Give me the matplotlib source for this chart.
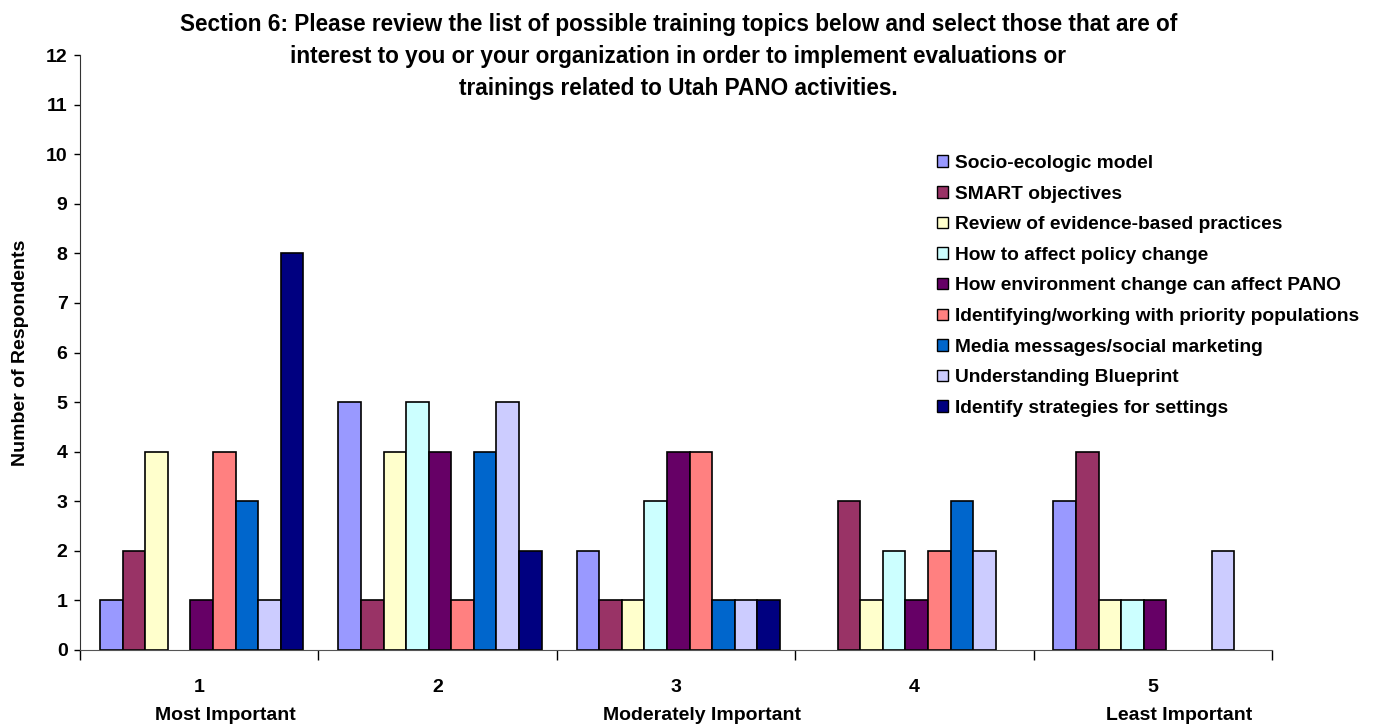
import numpy as np
import matplotlib.pyplot as plt
from matplotlib.patches import Patch
from matplotlib.transforms import blended_transform_factory

plt.rcParams['font.family'] = ['Liberation Sans', 'DejaVu Sans']
plt.rcParams['font.weight'] = 'bold'

categories = ['1', '2', '3', '4', '5']
sublabels = ['Most Important', '', 'Moderately Important', '', 'Least Important']
topics = ['Socio-ecologic model', 'SMART objectives', 'Review of evidence-based practices',
          'How to affect policy change', 'How environment change can affect PANO',
          'Identifying/working with priority populations', 'Media messages/social marketing',
          'Understanding Blueprint', 'Identify strategies for settings']
colors = ['#9999FF', '#993366', '#FFFFCC', '#CCFFFF', '#660066',
          '#FF8080', '#0066CC', '#CCCCFF', '#000080']

socio = [1, 5, 2, 0, 3]
smart = [2, 1, 1, 3, 4]
review = [4, 4, 1, 1, 1]
policy = [0, 5, 3, 2, 1]
environment = [1, 4, 4, 1, 1]
priority = [4, 1, 4, 2, 0]
media = [3, 4, 1, 3, 0]
blueprint = [1, 5, 1, 2, 2]
strategies = [8, 2, 1, 0, 0]
series = [socio, smart, review, policy, environment, priority, media, blueprint, strategies]

fig = plt.figure(figsize=(13.73, 7.26), dpi=100)
ax = fig.add_axes([0.0583, 0.1047, 0.8681, 0.8195])

x = np.arange(len(categories))
w = 0.0948
for i, vals in enumerate(series):
    off = (i - 4) * w + 0.01
    # zero bars: no outline, so nothing shows at the baseline
    lw = [1.2 if v else 0 for v in vals]
    ax.bar(x + off, vals, width=w, color=colors[i], edgecolor='black', linewidth=lw)

ax.set_xlim(-0.5, 4.5)
ax.set_ylim(0, 12)
ax.set_yticks(range(0, 13))
ax.tick_params(axis='y', labelsize=14, length=4, width=1, pad=5)
ax.set_xticks(np.arange(-0.5, 5, 1.0), minor=False)
ax.set_xticklabels([])
ax.set_xticks(x, minor=True)
ax.set_xticklabels(categories, minor=True, fontsize=14)
ax.tick_params(axis='x', which='minor', length=0, pad=21)
ax.tick_params(axis='x', which='major', length=7, width=1)

# second line of the category labels sits a bit to the right, as in the original
trans = blended_transform_factory(ax.transData, fig.transFigure)
for xi, s in zip(x, sublabels):
    if s:
        ax.text(xi + 0.11, 1 - 715 / 726, s, transform=trans, ha='center', va='center',
                fontsize=14, fontweight='bold', clip_on=False)

for s in ['top', 'right']:
    ax.spines[s].set_visible(False)
ax.spines['left'].set_color('#333333')
ax.spines['bottom'].set_color('#555555')

ax.set_ylabel('Number of Respondents', fontsize=14, fontweight='bold', labelpad=12)

fig.text(0.494, 0.982, 'Section 6: Please review the list of possible training topics below and select those that are of\n'
         'interest to you or your organization in order to implement evaluations or\n'
         'trainings related to Utah PANO activities.',
         ha='center', va='top', fontsize=16.3, fontweight='bold', linespacing=1.5)

handles = [Patch(facecolor=c, edgecolor='black', linewidth=1.0) for c in colors]
ax.legend(handles, topics, loc='upper left', bbox_to_anchor=(0.677, 0.797),
          bbox_transform=fig.transFigure, frameon=False, fontsize=13.8,
          handlelength=0.55, handleheight=0.55, handletextpad=0.4,
          labelspacing=0.71, borderaxespad=0)

fig.savefig('out.png', dpi=100)
